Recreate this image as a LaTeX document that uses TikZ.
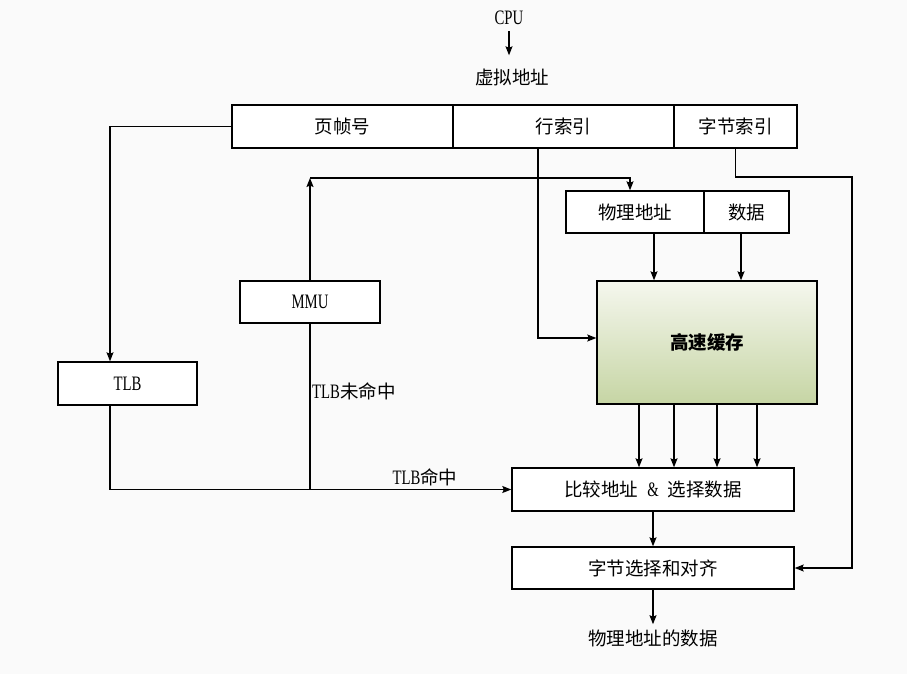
\documentclass[tikz,border=0pt]{standalone}
\usepackage{fontspec}
\setmainfont{Liberation Serif}[FakeStretch=0.72]
\newfontfamily\cjk{Noto Sans CJK SC}
\newcommand\cj[1]{{\fontsize{18.5}{20}\selectfont\cjk #1}}
\usetikzlibrary{arrows.meta,calc}
\definecolor{bgc}{HTML}{FAFAFA}
\definecolor{ctop}{HTML}{F5F7EE}
\definecolor{cbot}{HTML}{C6D5A4}
\tikzset{
  box/.style={draw=black, line width=1.4pt, inner sep=0pt, fill=white},
  lbl/.style={inner sep=1pt},
  arr/.style={line width=1.3pt, -{Stealth[length=9pt,width=7pt,inset=1.5pt]}},
  ln/.style={line width=1.3pt},
}
\begin{document}
\begin{tikzpicture}[x=1pt,y=-1pt, font=\fontsize{20.5}{22}\selectfont]
\fill[bgc] (0,0) rectangle (907,674);
\useasboundingbox (0,0) rectangle (907,674);

% text nodes
\node[lbl] (cpu) at (509,18) {CPU};
\node[lbl] (va) at (512,77) {\cj{虚拟地址}};

% top bar
\node[box, minimum width=221pt, minimum height=43pt] (pf) at (342.5,126.5) {\cj{页帧号}};
\node[box, minimum width=221pt, minimum height=43pt] (ri) at (563.5,126.5) {\cj{行索引}};
\node[box, minimum width=123pt, minimum height=43pt] (bi) at (735.5,126.5) {\cj{字节索引}};

% physical address / data
\node[box, minimum width=138pt, minimum height=42pt] (phys) at (635,212) {\cj{物理地址}};
\node[box, minimum width=85pt, minimum height=42pt] (data) at (746.5,212) {\cj{数据}};

% cache
\node[draw=black, line width=1.4pt, inner sep=0pt, top color=ctop, bottom color=cbot,
      minimum width=220pt, minimum height=123pt] (cache) at (707,342.5) {\cj{\bfseries 高速缓存}};

% TLB, MMU
\node[box, minimum width=139pt, minimum height=43pt] (tlb) at (127.5,383.5) {TLB};
\node[box, minimum width=140pt, minimum height=42pt] (mmu) at (310,302) {MMU};

% compare, byte select
\node[box, minimum width=282pt, minimum height=43pt] (cmp) at (653,489.5)
  {\cj{比较地址}\hspace{9pt}\&\hspace{9pt}\cj{选择数据}};
\node[box, minimum width=282pt, minimum height=42pt] (bsel) at (653,568) {\cj{字节选择和对齐}};
\node[lbl, inner sep=3pt] (out) at (653,638) {\cj{物理地址的数据}};

% labels
\node[lbl, anchor=west] (miss) at (311,391) {TLB\cj{未命中}};
\node[lbl] (hit) at (425,477) {TLB\cj{命中}};

% connectors
\draw[arr, shorten <=5pt, shorten >=12pt] (cpu.south) -- (cpu.south |- va.north);
\draw[arr] (pf.west) -| ([xshift=-17.5pt]tlb.north);
\draw[arr] ([xshift=-17.5pt]tlb.south) |- (cmp.west);

\coordinate (mtop) at (310,178);
\draw[ln] (mmu.south) -- (mmu.south |- cmp.west);
\draw[arr] (mmu.north) -- (mtop);
\draw[arr] (mtop) -| ([xshift=-5pt]phys.north);

\draw[arr] ([xshift=-25.5pt]ri.south) |- ([yshift=4.5pt]cache.west);

\coordinate (rr) at (852,177);
\draw[arr] (bi.south) |- (rr) |- (bsel.east);

\draw[arr] ([xshift=19pt]phys.south) -- ([xshift=19pt]phys.south |- cache.north);
\draw[arr] ([xshift=-5.5pt]data.south) -- ([xshift=-5.5pt]data.south |- cache.north);

\foreach \d in {-68,-33,10,50}{
  \draw[arr] ([xshift=\d pt]cache.south) -- ([xshift=\d pt]cache.south |- cmp.north);
}

\draw[arr] (cmp.south) -- (bsel.north);
\draw[arr, shorten >=2pt] (bsel.south) -- (out.north);
\end{tikzpicture}
\end{document}
